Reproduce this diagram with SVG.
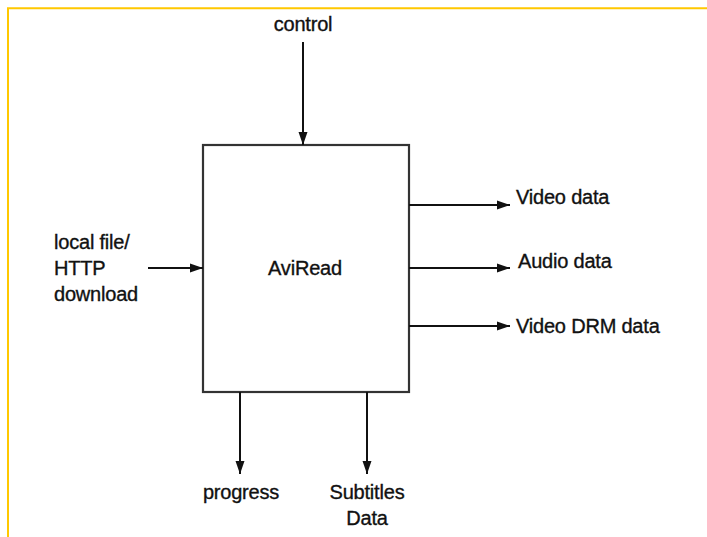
<svg xmlns="http://www.w3.org/2000/svg" width="707" height="537" viewBox="0 0 707 537">
  <style>
    .lbl { font-family: "Liberation Sans", Arial, sans-serif; font-size: 20px; fill: #111; stroke: #111; stroke-width: 0.35; letter-spacing: -0.2px; }
    .mid { text-anchor: middle; }
    .wire { stroke: #111; stroke-width: 2; fill: none; marker-end: url(#arrow); }
    .block { fill: #fff; stroke: #333; stroke-width: 2.2; }
  </style>
  <defs>
    <marker id="arrow" viewBox="0 0 13 10" refX="13" refY="5" markerWidth="13" markerHeight="10" markerUnits="userSpaceOnUse" orient="auto">
      <path d="M0,0.5 L13,5 L0,9.5 Z" fill="#111"/>
    </marker>
  </defs>
  <rect width="707" height="537" fill="#fff"/>
  <!-- page frame -->
  <path d="M8,537 V8.3 H707" fill="none" stroke="#FFC800" stroke-width="2"/>

  <g id="aviread">
    <rect class="block" x="203" y="145" width="206" height="247"/>
    <text class="lbl mid" x="305" y="275">AviRead</text>
  </g>

  <g id="control">
    <text class="lbl mid" x="303" y="31">control</text>
  </g>
  <g id="source">
    <text class="lbl" x="54" y="249">local file/</text>
    <text class="lbl" x="54" y="275">HTTP</text>
    <text class="lbl" x="54" y="301">download</text>
  </g>
  <g id="video">
    <text class="lbl" x="516" y="204">Video data</text>
  </g>
  <g id="audio">
    <text class="lbl" x="518" y="268">Audio data</text>
  </g>
  <g id="drm">
    <text class="lbl" x="516" y="333">Video DRM data</text>
  </g>
  <g id="progress">
    <text class="lbl mid" x="241" y="499">progress</text>
  </g>
  <g id="subtitles">
    <text class="lbl mid" x="367" y="499">Subtitles</text>
    <text class="lbl mid" x="367" y="525">Data</text>
  </g>

  <g id="connectors">
    <line class="wire" x1="303" y1="42" x2="303" y2="145"/>
    <line class="wire" x1="148" y1="268" x2="203" y2="268"/>
    <line class="wire" x1="409" y1="205" x2="510" y2="205"/>
    <line class="wire" x1="409" y1="268" x2="510" y2="268"/>
    <line class="wire" x1="409" y1="326" x2="510" y2="326"/>
    <line class="wire" x1="240" y1="392" x2="240" y2="474"/>
    <line class="wire" x1="367" y1="392" x2="367" y2="474"/>
  </g>
</svg>
